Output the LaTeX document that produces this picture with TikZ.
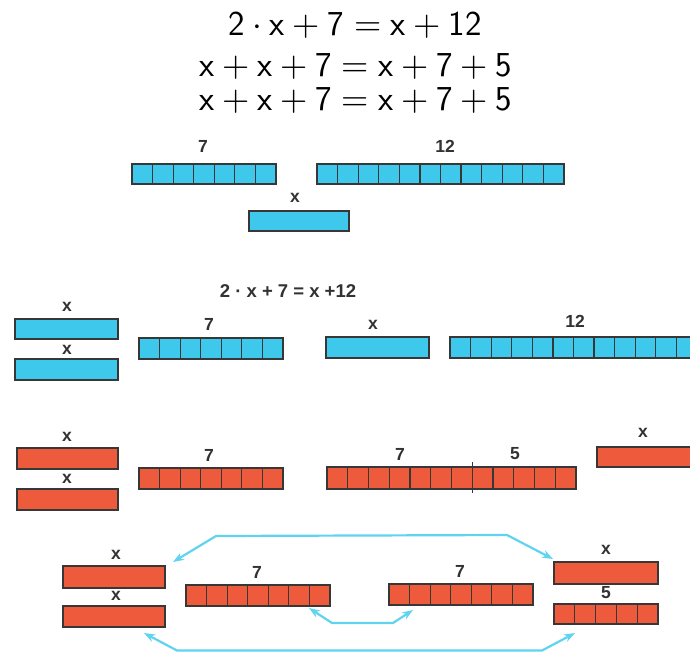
\documentclass[tikz,border=0pt]{standalone}
\usepackage{fontspec}
\usepackage{unicode-math}
\setmathfont{Latin Modern Math}
\newfontfamily\lblfont{Liberation Sans}
\usetikzlibrary{arrows.meta}
\definecolor{cyanfill}{RGB}{62,201,236}
\definecolor{redfill}{RGB}{238,90,60}
\definecolor{barline}{RGB}{55,55,55}
\definecolor{arrowc}{RGB}{95,212,240}
\definecolor{lblc}{RGB}{50,50,50}
\tikzset{
  barbox/.style={draw=barline, line width=1.2pt, inner sep=0pt, outer sep=0pt},
  cyanbar/.style={fill=cyanfill},
  redbar/.style={fill=redfill},
  cellline/.style={draw=barline, line width=1.2pt},
  lbl/.style={font=\lblfont\bfseries\fontsize{17.5}{20}\selectfont, text=lblc, inner sep=0pt},
  eqn/.style={font=\fontsize{35}{40}\selectfont, inner sep=0pt, anchor=base},
  smalleq/.style={font=\lblfont\bfseries\fontsize{18.5}{22}\selectfont, text=lblc, inner sep=0pt},
  arr/.style={draw=arrowc, line width=2.2pt, line join=round,
    {Stealth[length=11pt,width=8pt]}-{Stealth[length=11pt,width=8pt]}}
}
% #1 name, #2 x1, #3 y1, #4 x2, #5 y2, #6 number of cells, #7 fill style
\newcommand{\cbar}[7]{%
  \pgfmathsetmacro\bw{#4-#2}\pgfmathsetmacro\bh{#5-#3}%
  \node[barbox,#7,minimum width=\bw pt,minimum height=\bh pt,anchor=north west] (#1) at (#2,#3) {};%
  \ifnum#6>1
    \pgfmathsetmacro\cw{\bw/#6}%
    \pgfmathtruncatemacro\nm{#6-1}%
    \foreach \i in {1,...,\nm}{%
      \draw[cellline] ([xshift=\i*\cw pt]#1.north west) -- ([xshift=\i*\cw pt]#1.south west);}%
  \fi}
\begin{document}
\begin{tikzpicture}[x=1pt,y=-1pt]
\useasboundingbox (0,0) rectangle (690,652);
\clip (0,0) rectangle (690,652);
% equations
\node[eqn] (e1) at (355,36) {$\mathsf{2}\cdot\mathsf{x}+\mathsf{7}=\mathsf{x}+\mathsf{12}$};
\node[eqn] (e2) at (356,77) {$\mathsf{x}+\mathsf{x}+\mathsf{7}=\mathsf{x}+\mathsf{7}+\mathsf{5}$};
\node[eqn] (e3) at (356,111) {$\mathsf{x}+\mathsf{x}+\mathsf{7}=\mathsf{x}+\mathsf{7}+\mathsf{5}$};
% section 1
\cbar{A7}{132}{164}{276}{184}{7}{cyanbar}
\cbar{A12}{317}{164}{564}{184}{12}{cyanbar}
\cbar{Ax}{249}{211}{349}{231}{1}{cyanbar}
\node[lbl] (lA7) at (203,146) {7};
\node[lbl] (lA12) at (445,146) {12};
\node[lbl] (lAx) at (295,198) {x};
% section 2
\node[smalleq] (se) at (288,291) {2 · x + 7 = x +12};
\cbar{Bx1}{15}{319}{118}{339}{1}{cyanbar}
\cbar{Bx2}{15}{359}{118}{380}{1}{cyanbar}
\cbar{B7}{139}{338}{283}{359}{7}{cyanbar}
\cbar{Bx3}{326}{337}{429}{358}{1}{cyanbar}
\cbar{B12}{450}{337}{697}{358}{12}{cyanbar}
\node[lbl] (lBx1) at (67,307) {x};
\node[lbl] (lBx2) at (67,350) {x};
\node[lbl] (lB7) at (209,324) {7};
\node[lbl] (lBx3) at (373,325) {x};
\node[lbl] (lB12) at (575,321) {12};
% section 3
\cbar{Cx1}{17}{448}{118}{469}{1}{redbar}
\cbar{Cx2}{17}{489}{118}{510}{1}{redbar}
\cbar{C7}{139}{468}{283}{489}{7}{redbar}
\cbar{C12}{327}{467}{576}{489}{12}{redbar}
\cbar{Cx3}{597}{447}{697}{467}{1}{redbar}
\draw[draw=barline, line width=1.6pt] (472.3,462) -- (472.3,493);
\node[lbl] (lCx1) at (67,437) {x};
\node[lbl] (lCx2) at (67,479) {x};
\node[lbl] (lC7) at (209,455) {7};
\node[lbl] (lC12a) at (400,454) {7};
\node[lbl] (lC12b) at (515,454) {5};
\node[lbl] (lCx3) at (643,433) {x};
% section 4
\cbar{Dx1}{63}{566}{165}{588}{1}{redbar}
\cbar{Dx2}{63}{606}{165}{627}{1}{redbar}
\cbar{D7a}{186}{585}{330}{606}{7}{redbar}
\cbar{D7b}{389}{584}{533}{605}{7}{redbar}
\cbar{Dx3}{554}{562}{658}{584}{1}{redbar}
\cbar{D5}{554}{604}{658}{624}{5}{redbar}
\node[lbl] (lDx1) at (116,555) {x};
\node[lbl] (lDx2) at (116,596) {x};
\node[lbl] (lD7a) at (257,572) {7};
\node[lbl] (lD7b) at (460,571) {7};
\node[lbl] (lDx3) at (606,550) {x};
\node[lbl] (lD5) at (606,593) {5};
% arrows
\coordinate (ta) at (173,562);
\coordinate (tb) at (216,536);
\coordinate (tc) at (507,535);
\coordinate (td) at (553,559);
\draw[arr] (ta) -- (tb) -- (tc) -- (td);
\coordinate (ma) at (309,608);
\coordinate (mb) at (332,623);
\coordinate (mc) at (393,623);
\coordinate (md) at (413,610);
\draw[arr] (ma) -- (mb) -- (mc) -- (md);
\coordinate (ba) at (144,633);
\coordinate (bb) at (177,650.5);
\coordinate (bc) at (542,650.5);
\coordinate (bd) at (575,633);
\draw[arr] (ba) -- (bb) -- (bc) -- (bd);
\end{tikzpicture}
\end{document}
